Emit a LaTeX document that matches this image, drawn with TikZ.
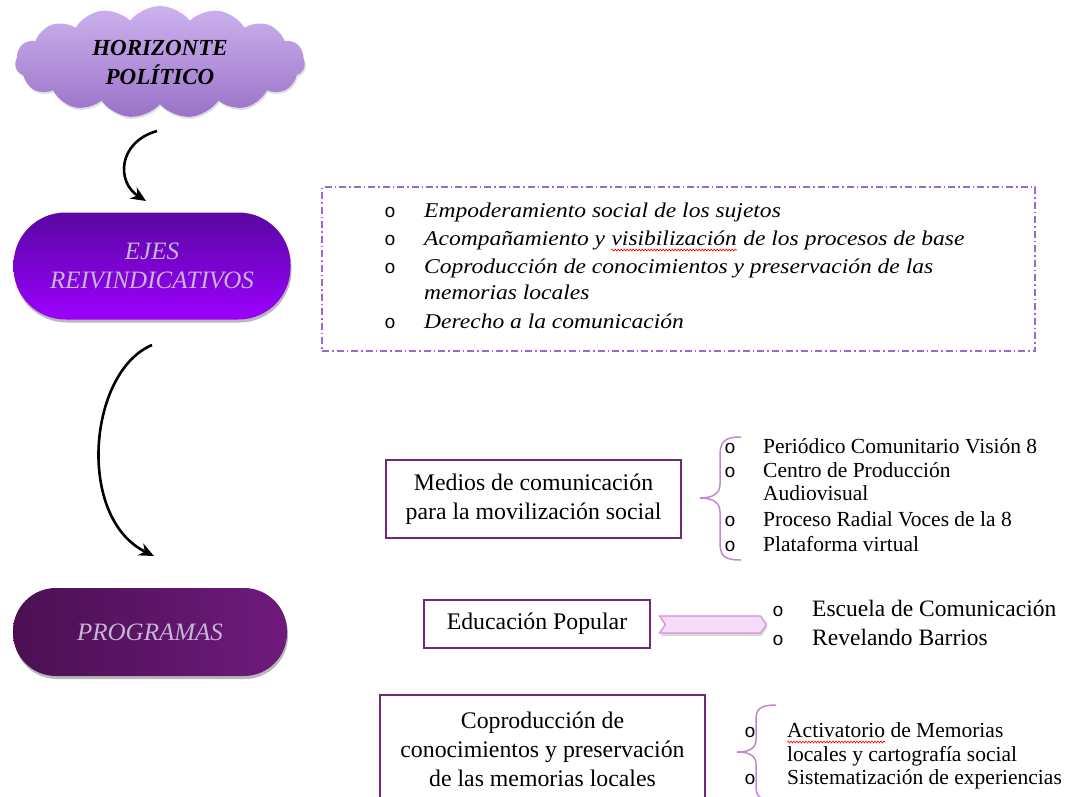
\documentclass[tikz,border=0pt]{standalone}
\usepackage{fontspec}
\setmainfont{Liberation Serif}
\newfontfamily\bulletfont{Liberation Mono}
\newfontfamily\wideserif[FakeStretch=1.12]{Liberation Serif}
\usetikzlibrary{shapes.symbols,shapes.arrows,shadows,arrows.meta,decorations.pathmorphing,calc}
\definecolor{cloudtop}{HTML}{CDB2EE}
\definecolor{cloudbot}{HTML}{9A72C8}
\definecolor{ejestop}{HTML}{5A06A2}
\definecolor{ejesbot}{HTML}{9C00FF}
\definecolor{progtop}{HTML}{4C1052}
\definecolor{progbot}{HTML}{6E1A7C}
\definecolor{pilltext}{HTML}{C6B6D6}
\definecolor{boxborder}{HTML}{6E2A78}
\definecolor{dashcol}{HTML}{9A6AC8}
\definecolor{bracecol}{HTML}{C884D4}
\definecolor{arrfill}{HTML}{F6DCF6}
\definecolor{arrdraw}{HTML}{D48ED8}
\begin{document}
\begin{tikzpicture}[x=1pt,y=-1pt,
  pill/.style={align=center, text=pilltext, font=\fontsize{25}{29}\selectfont\itshape,
     drop shadow={opacity=0.55, shadow xshift=1pt, shadow yshift=-3pt}},
  progbox/.style={draw=boxborder, line width=2.5pt, align=center, fill=white, font=\fontsize{23.8}{29}\selectfont},
  bul/.style={anchor=base, inner sep=0, font=\bulletfont\fontsize{19}{19}\selectfont},
  item/.style={anchor=base west, inner sep=0, font=\fontsize{21.5}{24}\selectfont},
  bigitem/.style={item, font=\fontsize{23.5}{24}\selectfont},
  iitem/.style={item, font=\wideserif\fontsize{21}{24}\selectfont\itshape},
  flowarrow/.style={line width=2.6pt, -{Stealth[length=15pt,width=13pt]}},
  bracepath/.style={draw=bracecol, line width=1.5pt},
  squiggle/.style={draw=red, line width=0.6pt, decorate, decoration={snake, amplitude=1pt, segment length=3pt}}
]
\useasboundingbox (0,0) rectangle (1071,796);
\clip (0,0) rectangle (1071,796);

% cloud
\node[cloud, cloud puffs=15, cloud puff arc=105, aspect=2.7, minimum width=290, minimum height=112,
  top color=cloudtop, bottom color=cloudbot, align=center, font=\fontsize{23}{29}\selectfont\bfseries\itshape,
  drop shadow={opacity=0.25, shadow xshift=1pt, shadow yshift=-2pt}] (horiz) at (160,62) {HORIZONTE\\POLÍTICO};

% pills
\node[pill, minimum width=277, minimum height=107, rounded corners=52, top color=ejestop, bottom color=ejesbot] (ejes) at (152,266) {EJES\\REIVINDICATIVOS};
\node[pill, minimum width=274, minimum height=88, rounded corners=43, left color=progtop, right color=progbot] (prog) at (150,632) {PROGRAMAS};

% curved arrows
\coordinate (a1s) at (157,131);
\coordinate (a1e) at (146,201);
\draw[flowarrow] (a1s) .. controls (118,142) and (116,182) .. (a1e);
\coordinate (a2s) at (152,345);
\coordinate (a2e) at (154,556);
\draw[flowarrow] (a2s) .. controls (88,372) and (76,518) .. (a2e);

% dashed box of axes
\node[draw=dashcol, dash pattern=on 7pt off 3pt on 1.5pt off 3pt, line width=1.3pt, minimum width=713, minimum height=164, inner sep=0] (axes) at (678.5,269) {};
\node[bul] (ab1) at (390,217) {o};
\node[iitem] (at1) at (424,217) {Empoderamiento social de los sujetos};
\node[bul] (ab2) at (390,245) {o};
\node[iitem] (at2a) at (424,245) {Acompañamiento y};
\node[iitem] (at2b) at ($(at2a.base east)+(6,0)$) {visibilización};
\node[iitem] (at2c) at ($(at2b.base east)+(6,0)$) {de los procesos de base};
\draw[squiggle] ($(at2b.base west)+(0,5)$) -- ($(at2b.base east)+(0,5)$);
\node[bul] (ab3) at (390,273) {o};
\node[iitem] (at3) at (424,273) {Coproducción de conocimientos y preservación de las};
\node[iitem] (at3b) at (424,299) {memorias locales};
\node[bul] (ab4) at (390,328) {o};
\node[iitem] (at4) at (424,328) {Derecho a la comunicación};

% Medios
\node[progbox, minimum width=295, minimum height=78] (medios) at (533.5,499) {Medios de comunicación\\para la movilización social};
\coordinate (b1top) at (741,437);
\coordinate (b1tip) at (700,498);
\coordinate (b1bot) at (741,560);
\draw[bracepath] (b1top) .. controls (724,437) and (720,442) .. (720,456) -- (720,484)
   .. controls (720,494) and (712,498) .. (b1tip)
   .. controls (712,498) and (720,502) .. (720,512) -- (720,542)
   .. controls (720,556) and (724,560) .. (b1bot);
\node[bul] (mb1) at (730,453) {o};
\node[item] (mt1) at (763,453) {Periódico Comunitario Visión 8};
\node[bul] (mb2) at (730,477) {o};
\node[item] (mt2) at (763,477) {Centro de Producción};
\node[item] (mt2b) at (763,500) {Audiovisual};
\node[bul] (mb3) at (730,526) {o};
\node[item] (mt3) at (763,526) {Proceso Radial Voces de la 8};
\node[bul] (mb4) at (730,551) {o};
\node[item] (mt4) at (763,551) {Plataforma virtual};

% Educacion
\node[progbox, line width=2pt, minimum width=226, minimum height=48] (edu) at (537,624) {Educación Popular};
\node[signal, signal to=east, signal from=west, signal pointer angle=110, fill=arrfill, draw=arrdraw, line width=1.2pt,
   minimum width=107, minimum height=17, inner sep=0,
   drop shadow={opacity=0.3, shadow xshift=1pt, shadow yshift=-3pt}] (eduarrow) at (713,624.5) {};
\node[bul] (eb1) at (778,616) {o};
\node[bigitem] (et1) at (812,616) {Escuela de Comunicación};
\node[bul] (eb2) at (778,645) {o};
\node[bigitem] (et2) at (812,645) {Revelando Barrios};

% Coproduccion
\node[progbox, minimum width=325, minimum height=108] (copro) at (542.5,749) {Coproducción de\\conocimientos y preservación\\de las memorias locales};
\coordinate (b2top) at (776,705);
\coordinate (b2tip) at (737,752);
\coordinate (b2bot) at (776,800);
\draw[bracepath] (b2top) .. controls (760,705) and (756,709) .. (756,720) -- (756,740)
   .. controls (756,749) and (748,752) .. (b2tip)
   .. controls (748,752) and (756,755) .. (756,764) -- (756,786)
   .. controls (756,797) and (760,800) .. (b2bot);
\node[bul] (cb1) at (750,737) {o};
\node[item] (ct1a) at (787,737) {Activatorio};
\node[item] (ct1c) at ($(ct1a.base east)+(5,0)$) {de Memorias};
\draw[squiggle] ($(ct1a.base west)+(0,5)$) -- ($(ct1a.base east)+(0,5)$);
\node[item] (ct1b) at (787,761) {locales y cartografía social};
\node[bul] (cb2) at (750,784) {o};
\node[item] (ct2) at (787,784) {Sistematización de experiencias};
\end{tikzpicture}
\end{document}
